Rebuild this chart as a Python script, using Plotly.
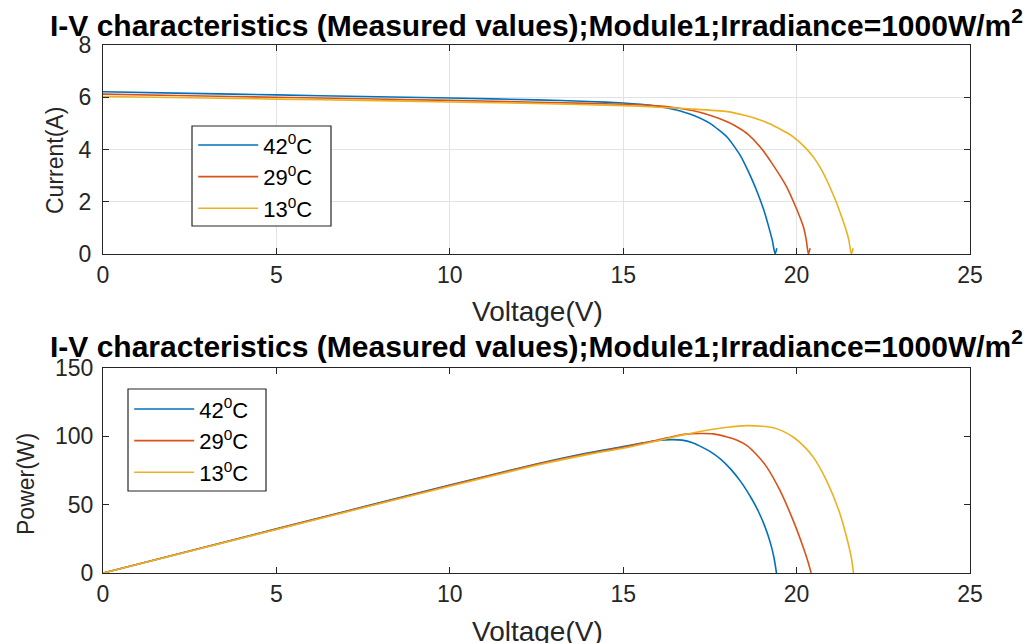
import plotly.graph_objects as go

# ---------------- data ----------------
labels = ["42<sup>0</sup>C", "29<sup>0</sup>C", "13<sup>0</sup>C"]
colors = ["#0072BD", "#D95319", "#EDB120"]

# I-V curves
v_iv_42 = [0, 2.5, 5, 7.5, 10, 12.5, 14, 15, 15.5, 16, 16.5, 17, 17.5, 18, 18.4, 18.6, 18.75, 18.9, 19.05, 19.2, 19.3, 19.38, 19.43]
i_iv_42 = [6.21, 6.15, 6.09, 6.03, 5.97, 5.9, 5.84, 5.78, 5.73, 5.65, 5.52, 5.32, 5.0, 4.47, 3.72, 3.18, 2.74, 2.25, 1.7, 1.02, 0.52, 0.0, 0.22]

v_iv_29 = [0, 2.5, 5, 7.5, 10, 12.5, 15, 16, 16.5, 17, 17.5, 18, 18.3, 18.6, 18.95, 19.3, 19.7, 20.0, 20.2, 20.28, 20.34, 20.39]
i_iv_29 = [6.12, 6.06, 6.0, 5.94, 5.88, 5.81, 5.73, 5.67, 5.6, 5.49, 5.31, 5.06, 4.85, 4.58, 4.1, 3.45, 2.6, 1.72, 1.02, 0.52, 0.0, 0.22]

v_iv_13 = [0, 2.5, 5, 7.5, 10, 12.5, 15, 16, 17, 18, 18.5, 18.95, 19.25, 19.5, 19.75, 20.0, 20.25, 20.5, 20.7, 20.85, 21.0, 21.15, 21.3, 21.4, 21.5, 21.58, 21.63]
i_iv_13 = [6.03, 5.98, 5.93, 5.88, 5.82, 5.76, 5.68, 5.62, 5.55, 5.45, 5.31, 5.13, 4.97, 4.8, 4.62, 4.38, 4.07, 3.68, 3.27, 2.88, 2.44, 1.96, 1.42, 1.03, 0.57, 0.0, 0.22]

# P-V curves
v_pv_42 = [0, 5, 10, 12.5, 14, 15, 15.5, 16, 16.4, 16.7, 17.0, 17.2, 17.5, 17.8, 18.1, 18.4, 18.7, 18.9, 19.1, 19.25, 19.35, 19.42]
p_pv_42 = [0, 32.3, 64.3, 79.8, 88.0, 92.5, 94.9, 97.0, 97.6, 97.2, 95.3, 93.0, 89.0, 83.5, 76.0, 66.5, 54.5, 45.0, 33.0, 21.5, 11.0, 0]

v_pv_29 = [0, 5, 10, 12.5, 14, 15, 16, 16.5, 16.8, 17.2, 17.6, 18.0, 18.3, 18.56, 18.85, 19.14, 19.52, 19.9, 20.19, 20.32, 20.42]
p_pv_29 = [0, 32.1, 64.0, 79.5, 87.5, 92.0, 97.3, 100.3, 101.6, 102.1, 101.8, 99.5, 97.0, 93.4, 86.5, 77.5, 60.4, 38.5, 18.9, 9.0, 0]

v_pv_13 = [0, 5, 10, 12.5, 14, 15, 16, 16.5, 17.0, 17.41, 18.0, 18.56, 19.0, 19.33, 19.6, 19.9, 20.2, 20.48, 20.86, 21.25, 21.49, 21.58, 21.64]
p_pv_13 = [0, 31.8, 63.5, 78.8, 86.8, 91.3, 96.8, 99.8, 102.5, 104.4, 106.6, 107.8, 107.4, 106.3, 103.8, 99.5, 93.0, 84.8, 67.8, 43.4, 21.4, 11.0, 0]

x_ticks = [0, 5, 10, 15, 20, 25]
y1_ticks = [0, 2, 4, 6, 8]
y2_ticks = [0, 50, 100, 150]

title_text = "I-V characteristics (Measured values);Module1;Irradiance=1000W/m<sup>2</sup>"

# ---------------- figure ----------------
W, H = 1029, 643
fig = go.Figure()

iv = [(v_iv_42, i_iv_42), (v_iv_29, i_iv_29), (v_iv_13, i_iv_13)]
pv = [(v_pv_42, p_pv_42), (v_pv_29, p_pv_29), (v_pv_13, p_pv_13)]

for k, (v, i) in enumerate(iv):
    fig.add_trace(go.Scatter(x=v, y=i, mode="lines", name=labels[k],
                             line=dict(color=colors[k], width=1.6, shape="spline", smoothing=0.6),
                             xaxis="x", yaxis="y", legend="legend", legendgroup="a%d" % k))
for k, (v, p) in enumerate(pv):
    fig.add_trace(go.Scatter(x=v, y=p, mode="lines", name=labels[k],
                             line=dict(color=colors[k], width=1.6, shape="spline", smoothing=0.6),
                             xaxis="x2", yaxis="y2", legend="legend2", legendgroup="b%d" % k))

axis_col = "#262626"
FONT = "Liberation Sans, Arial, sans-serif"
tickfont = dict(family=FONT, size=23, color=axis_col)
common = dict(showline=True, linecolor=axis_col, linewidth=1.2, mirror="ticks",
              ticks="inside", ticklen=6, tickwidth=1.2, tickcolor=axis_col,
              tickfont=tickfont, zeroline=False, automargin=False)

x_dom = [103 / W, 970 / W]
legend_style = dict(xanchor="left", yanchor="top", bgcolor="rgba(0,0,0,0)",
                    bordercolor="rgba(0,0,0,0)", borderwidth=1.2,
                    font=dict(family=FONT, size=22, color="black"),
                    itemwidth=60, tracegroupgap=0)
fig.update_layout(
    width=W, height=H,
    margin=dict(l=0, r=0, t=0, b=0, autoexpand=False),
    paper_bgcolor="white", plot_bgcolor="white",
    xaxis=dict(domain=x_dom, range=[0, 25], tickvals=x_ticks, anchor="y",
               showgrid=True, gridcolor="#e3e3e3", gridwidth=1, **common),
    yaxis=dict(domain=[1 - 254 / H, 1 - 45 / H], range=[0, 8], tickvals=y1_ticks, anchor="x",
               showgrid=True, gridcolor="#e3e3e3", gridwidth=1, ticklabelstandoff=6, **common),
    xaxis2=dict(domain=x_dom, range=[0, 25], tickvals=x_ticks, anchor="y2",
                showgrid=False, **common),
    yaxis2=dict(domain=[1 - 573 / H, 1 - 368 / H], range=[0, 150], tickvals=y2_ticks, anchor="x2",
                showgrid=False, ticklabelstandoff=4, **common),
    showlegend=True,
    legend=dict(x=192 / W, y=1 - 123 / H, **legend_style),
    legend2=dict(x=128 / W, y=1 - 387 / H, **legend_style),
)

# legend frames (white box with dark border, drawn over the curves)
for (x0, y0, x1, y1) in [(192, 126, 331, 226), (128, 389, 266, 491)]:
    fig.add_shape(type="rect", xref="paper", yref="paper",
                  x0=x0 / W, x1=x1 / W, y0=1 - y1 / H, y1=1 - y0 / H,
                  fillcolor="white", line=dict(color=axis_col, width=1.2), layer="above")

title_font = dict(family=FONT, size=30, color="black")
label_font = dict(family=FONT, size=28, color=axis_col)
ylabel_font = dict(family=FONT, size=23, color=axis_col)
ann = [
    dict(text="<b>" + title_text + "</b>", x=536 / W, y=1 - 23 / H, font=title_font),
    dict(text="<b>" + title_text + "</b>", x=536 / W, y=1 - 344 / H, font=title_font),
    dict(text="Voltage(V)", x=537 / W, y=1 - 311 / H, font=label_font),
    dict(text="Voltage(V)", x=537 / W, y=1 - 631 / H, font=label_font),
    dict(text="Current(A)", x=55 / W, y=1 - 161 / H, font=ylabel_font, textangle=-90),
    dict(text="Power(W)", x=26 / W, y=1 - 484 / H, font=ylabel_font, textangle=-90),
]
for a in ann:
    fig.add_annotation(xref="paper", yref="paper", xanchor="center", yanchor="middle",
                       showarrow=False, **a)

fig.write_html("out.html")
